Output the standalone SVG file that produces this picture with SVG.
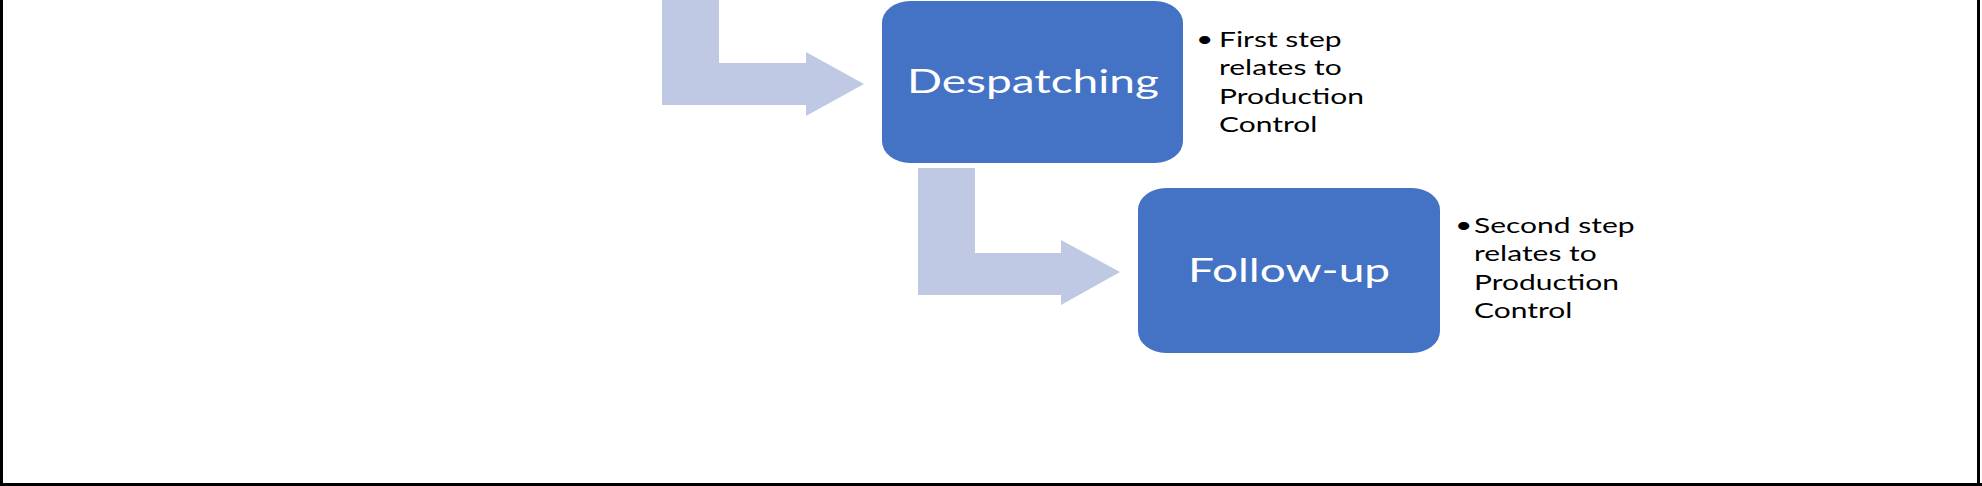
<svg xmlns="http://www.w3.org/2000/svg" width="1982" height="486" viewBox="0 0 1982 486">
<style>
.box{fill:#4472C4}
.arrow{fill:#BFC9E3}
.label{font-family:Lato,"Open Sans","Liberation Sans",sans-serif;fill:#FFFFFF;text-anchor:middle;font-size:46px}
.note{font-family:Lato,"Open Sans","Liberation Sans",sans-serif;fill:#000000;font-size:30px}
</style>
<rect x="0" y="0" width="1982" height="486" fill="#FFFFFF"/>
<g id="frame" fill="none" stroke="#000000" stroke-width="3">
<line x1="1.5" y1="0" x2="1.5" y2="486"/>
<line x1="1978.5" y1="0" x2="1978.5" y2="486"/>
<line x1="0" y1="484.5" x2="1982" y2="484.5"/>
</g>
<g id="connectors">
<path class="arrow" d="M662,0 H719 V63 H806 V52 L864,84 L806,116 V105 H662 Z"/>
<path class="arrow" d="M918,168 H975 V253 H1061 V240 L1120,272 L1061,305 V295 H918 Z"/>
</g>
<g id="despatching">
<rect class="box" x="882" y="1" width="301" height="162" rx="28" ry="22"/>
<text class="label" x="1033" y="129.2" transform="scale(1,0.72)">Despatching</text>
</g>
<g id="despatching-note" transform="scale(1,0.72)">
<text class="note" x="1196" y="64.6">•</text>
<text class="note" x="1219" y="64.6">First step</text>
<text class="note" x="1219" y="104.2">relates to</text>
<text class="note" x="1219" y="143.8">Production</text>
<text class="note" x="1219" y="184">Control</text>
</g>
<g id="follow-up">
<rect class="box" x="1138" y="188" width="302" height="165" rx="28" ry="22"/>
<text class="label" x="1289" y="391.7" transform="scale(1,0.72)">Follow-up</text>
</g>
<g id="follow-up-note" transform="scale(1,0.72)">
<text class="note" x="1455" y="323.6">•</text>
<text class="note" x="1474" y="323.6">Second step</text>
<text class="note" x="1474" y="362.5">relates to</text>
<text class="note" x="1474" y="402.1">Production</text>
<text class="note" x="1474" y="441.7">Control</text>
</g>
</svg>
